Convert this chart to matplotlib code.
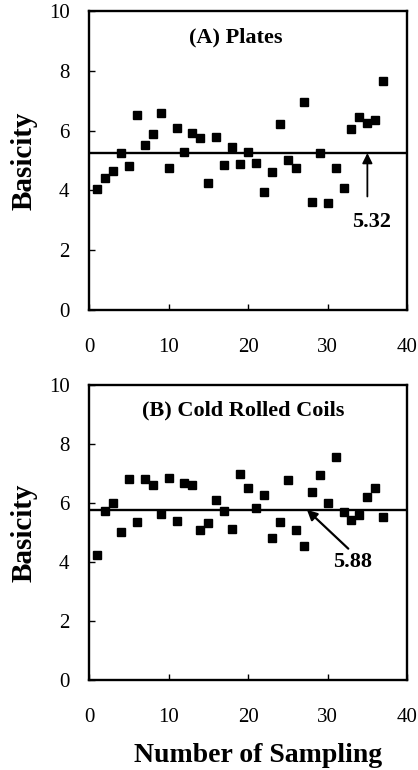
import numpy as np
import matplotlib
matplotlib.use("Agg")
import matplotlib.pyplot as plt

plt.rcParams['font.family'] = ['Liberation Serif', 'DejaVu Serif']

# sample number, 1..37 in both panels
sample = list(range(1, 38))

# (A) plates
basic_a = [4.05, 4.43, 4.66, 5.24, 4.83, 6.52, 5.52, 5.88, 6.58, 4.74,
           6.08, 5.27, 5.91, 5.74, 4.24, 5.80, 4.85, 5.46, 4.88, 5.30,
           4.93, 3.96, 4.63, 6.22, 5.02, 4.74, 6.97, 3.62, 5.24, 3.59,
           4.74, 4.07, 6.04, 6.44, 6.24, 6.35, 7.64]
# (B) cold rolled coils
basic_b = [4.24, 5.73, 5.99, 5.03, 6.80, 5.37, 6.80, 6.61, 5.62, 6.86,
           5.39, 6.69, 6.61, 5.08, 5.31, 6.10, 5.73, 5.11, 6.97, 6.50,
           5.84, 6.27, 4.82, 5.37, 6.78, 5.08, 4.55, 6.36, 6.95, 5.99,
           7.57, 5.71, 5.42, 5.59, 6.21, 6.50, 5.54]

# average lines (level as drawn, label as printed)
line_a, label_a = 5.25, "5.32"
line_b, label_b = 5.77, "5.88"

titles = ["(A) Plates", "(B) Cold Rolled Coils"]
xticks = [0, 10, 20, 30, 40]
yticks = [0, 2, 4, 6, 8, 10]

fig = plt.figure(figsize=(4.18, 7.70), dpi=100)
ax1 = fig.add_axes([0.213, 0.597, 0.761, 0.389])
ax2 = fig.add_axes([0.213, 0.117, 0.761, 0.383])

title_pos = [(0.462, 0.91), (0.486, 0.915)]

for ax, y, lev, title, tp in [(ax1, basic_a, line_a, titles[0], title_pos[0]),
                              (ax2, basic_b, line_b, titles[1], title_pos[1])]:
    ax.plot(sample, y, 's', color='black', ms=6, zorder=3, clip_on=False)
    ax.axhline(lev, color='black', lw=1.7)
    ax.set_xlim(0, 40)
    ax.set_ylim(0, 10)
    ax.set_xticks(xticks)
    ax.set_yticks(yticks)
    ax.tick_params(direction='in', length=4, width=1.0, labelsize=15)
    ax.tick_params(axis='x', pad=20)
    ax.tick_params(axis='y', pad=14)
    for sp in ax.spines.values():
        sp.set_linewidth(1.7)
    ax.set_ylabel("Basicity", fontsize=21, fontweight='bold', labelpad=8)
    ax.text(tp[0], tp[1], title, transform=ax.transAxes, ha='center', va='center',
            fontsize=16, fontweight='bold')

# arrow + value for (A)
ax1.annotate("", xy=(35, line_a), xytext=(35, 3.8),
             arrowprops=dict(arrowstyle='-|>', color='black', lw=1.3,
                             mutation_scale=15, shrinkA=0, shrinkB=0))
ax1.text(35.5, 2.95, label_a, ha='center', va='center', fontsize=16, fontweight='bold')

# arrow + value for (B)
ax2.annotate("", xy=(27.4, line_b), xytext=(32.6, 4.45),
             arrowprops=dict(arrowstyle='-|>', color='black', lw=1.6,
                             mutation_scale=15, shrinkA=0, shrinkB=0))
ax2.text(33.1, 4.0, label_b, ha='center', va='center', fontsize=16, fontweight='bold')

ax2.set_xlabel("Number of Sampling", fontsize=20, fontweight='bold', labelpad=6)
ax2.xaxis.set_label_coords(0.53, -0.215)

fig.savefig("out.png", dpi=100)
